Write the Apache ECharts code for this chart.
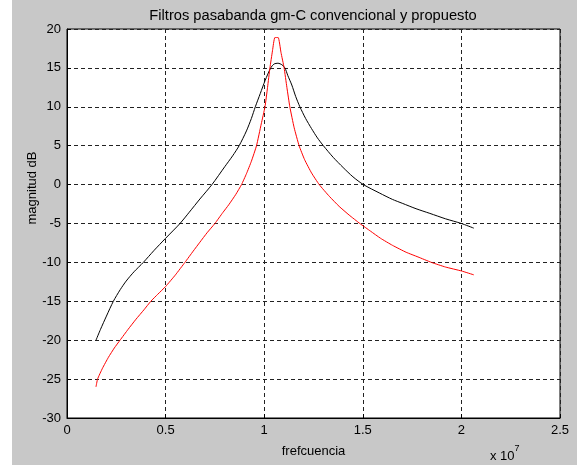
<!DOCTYPE html>
<html>
<head>
    <meta charset="utf-8">
    <title>Filtros pasabanda gm-C</title>
    <script src="https://cdn.jsdelivr.net/npm/echarts@6/dist/echarts.min.js"></script>
    <style>
        body { margin: 0; background: #fff; }
        #chart { width: 577px; height: 465px; }
    </style>
</head>
<body>
<div id="chart"></div>
<script>
    // frecuencia en unidades de 1e7 Hz, magnitud en dB
    var convFreq = [0.147, 0.17, 0.20, 0.235, 0.27, 0.30, 0.34, 0.387, 0.44, 0.50, 0.573, 0.62, 0.674, 0.735, 0.80, 0.84, 0.873, 0.91, 0.935, 0.955, 0.98, 1.005, 1.033, 1.05, 1.07, 1.09, 1.105, 1.12, 1.14, 1.16, 1.181, 1.21, 1.24, 1.27, 1.30, 1.35, 1.40, 1.45, 1.503, 1.586, 1.65, 1.70, 1.77, 1.84, 1.92, 2.00, 2.063];
    var convDb   = [-20.0, -18.6, -16.9, -15.0, -13.5, -12.4, -11.2, -10.0, -8.5, -6.9, -5.0, -3.55, -1.85, 0.0, 2.3, 3.7, 5.0, 6.9, 8.5, 10.0, 11.7, 13.4, 15.0, 15.5, 15.6, 15.4, 15.0, 14.0, 12.8, 11.3, 10.0, 8.5, 7.2, 6.0, 5.0, 3.5, 2.2, 1.0, 0.0, -1.1, -1.9, -2.4, -3.1, -3.7, -4.4, -5.0, -5.6];

    var propFreq = [0.147, 0.155, 0.18, 0.21, 0.24, 0.269, 0.31, 0.35, 0.39, 0.425, 0.46, 0.50, 0.55, 0.598, 0.64, 0.674, 0.71, 0.75, 0.79, 0.82, 0.855, 0.885, 0.91, 0.935, 0.961, 0.985, 1.004, 1.017, 1.029, 1.042, 1.054, 1.071, 1.085, 1.101, 1.115, 1.13, 1.152, 1.177, 1.205, 1.24, 1.279, 1.33, 1.38, 1.43, 1.485, 1.54, 1.59, 1.65, 1.72, 1.78, 1.848, 1.92, 2.00, 2.063];
    var propDb   = [-26.0, -25.0, -23.6, -22.2, -21.0, -20.0, -18.6, -17.3, -16.1, -15.0, -14.1, -13.1, -11.6, -10.0, -8.55, -7.4, -6.2, -5.0, -3.6, -2.6, -1.3, 0.0, 1.4, 3.0, 5.0, 7.8, 10.0, 12.5, 15.0, 17.2, 18.9, 18.9, 17.0, 15.0, 12.5, 10.0, 7.3, 5.0, 3.2, 1.5, 0.0, -1.5, -2.8, -3.9, -5.0, -6.0, -6.9, -7.8, -8.7, -9.3, -10.0, -10.6, -11.1, -11.6];

    var xTicks = ['0', '0.5', '1', '1.5', '2', '2.5'];

    function pares(xs, ys) {
        var out = [];
        for (var i = 0; i < xs.length; i++) out.push([xs[i], ys[i]]);
        return out;
    }

    var fuente = 'Liberation Sans';
    var myChart = echarts.init(document.getElementById('chart'));
    myChart.setOption({
        backgroundColor: '#c8c8c8',
        animation: false,
        title: {
            text: 'Filtros pasabanda gm-C convencional y propuesto',
            left: 308, top: 3, textAlign: 'center',
            textStyle: { fontFamily: fuente, fontSize: 14.7, fontWeight: 'normal', color: '#000' }
        },
        grid: {
            left: 67, top: 29, right: 17, bottom: 47,
            show: true, backgroundColor: '#fff', borderColor: '#000', borderWidth: 1
        },
        graphic: [
            { type: 'rect', shape: { x: 0, y: 0, width: 12, height: 465 }, style: { fill: '#fff' } },
            {
                // etiqueta del eje y
                type: 'text', x: 32, y: 188, rotation: Math.PI / 2,
                style: {
                    text: 'magnitud dB', align: 'center', verticalAlign: 'middle',
                    fontFamily: fuente, fontSize: 13, fill: '#000'
                }
            },
            {
                type: 'text', left: 490, top: 444,
                style: {
                    text: '{a|x 10}{b|7}',
                    rich: {
                        a: { fontFamily: fuente, fontSize: 13, color: '#000', padding: [6, 0, 0, 0] },
                        b: { fontFamily: fuente, fontSize: 9, color: '#000', verticalAlign: 'top' }
                    }
                }
            }
        ],
        xAxis: {
            type: 'value', min: 0, max: 2.5, interval: 0.5,
            name: 'frefcuencia', nameLocation: 'middle', nameGap: 27,
            nameTextStyle: { fontFamily: fuente, fontSize: 13, color: '#000' },
            axisLine: { onZero: false, lineStyle: { color: '#000' } },
            axisTick: { inside: true, length: 4, lineStyle: { color: '#000' } },
            axisLabel: {
                fontFamily: fuente, fontSize: 13, color: '#000', margin: 6,
                formatter: function (v) { return xTicks[Math.round(v / 0.5)]; }
            },
            splitLine: { show: true, lineStyle: { color: '#222', type: [4, 3], width: 1 } }
        },
        yAxis: {
            type: 'value', min: -30, max: 20, interval: 5,
            axisLine: { show: true, onZero: false, lineStyle: { color: '#000' } },
            axisTick: { show: true, inside: true, length: 4, lineStyle: { color: '#000' } },
            axisLabel: { fontFamily: fuente, fontSize: 13, color: '#000', margin: 6 },
            splitLine: { show: true, lineStyle: { color: '#222', type: [4, 3], width: 1 } }
        },
        series: [
            {
                name: 'convencional', type: 'line', data: pares(convFreq, convDb),
                showSymbol: false, smooth: 0.25,
                lineStyle: { color: '#000', width: 1 }
            },
            {
                name: 'propuesto', type: 'line', data: pares(propFreq, propDb),
                showSymbol: false, smooth: 0.15,
                lineStyle: { color: '#ff0000', width: 1 }
            }
        ]
    });
</script>
</body>
</html>
